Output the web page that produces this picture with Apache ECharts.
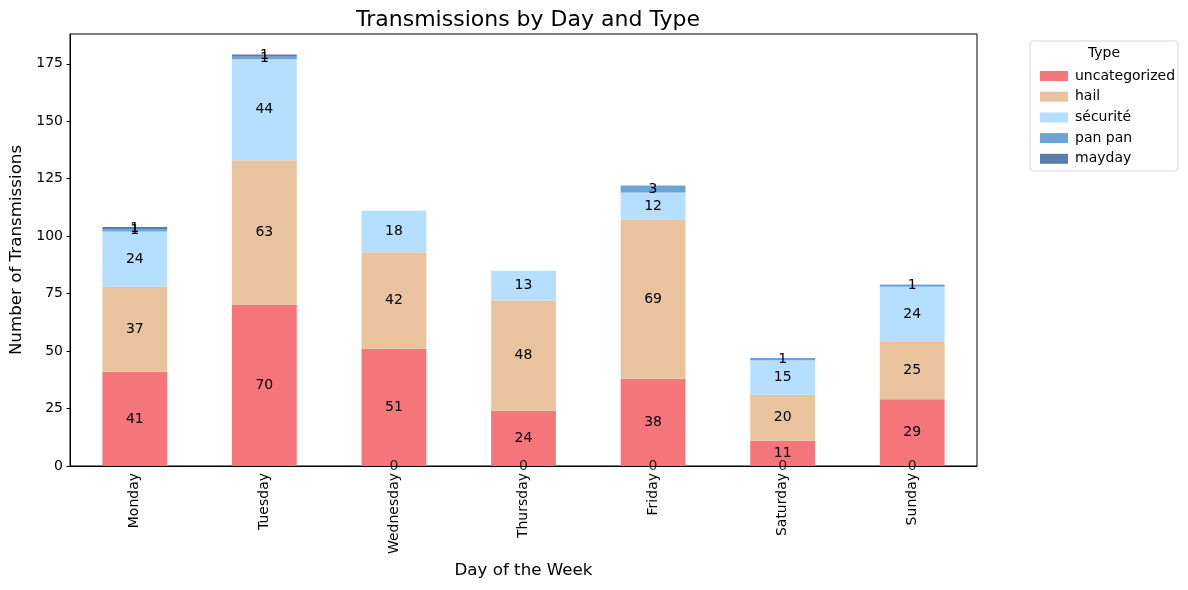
<!DOCTYPE html>
<html>
<head>
<meta charset="utf-8">
<script src="https://cdn.jsdelivr.net/npm/echarts@6/dist/echarts.min.js"></script>
<style>
html,body{margin:0;padding:0;background:#fff;}
#chart{width:1188px;height:590px;}
</style>
</head>
<body>
<div id="chart"></div>
<script>
const days = ['Monday','Tuesday','Wednesday','Thursday','Friday','Saturday','Sunday'];
const uncategorized = [41, 70, 51, 24, 38, 11, 29];
const hail = [37, 63, 42, 48, 69, 20, 25];
const securite = [24, 44, 18, 13, 12, 15, 24];
const panpan = [1, 1, 0, 0, 3, 1, 1];
const mayday = [1, 1, 0, 0, 0, 0, 0];
const yTicks = [0, 25, 50, 75, 100, 125, 150, 175];

const seriesDefs = [
  {name: 'uncategorized', data: uncategorized, color: '#F4767B'},
  {name: 'hail', data: hail, color: '#E8C39E'},
  {name: 'sécurité', data: securite, color: '#B6DEFE'},
  {name: 'pan pan', data: panpan, color: '#6AA3D6'},
  {name: 'mayday', data: mayday, color: '#5A7CA8'}
];

const totals = days.map((d, i) => seriesDefs.reduce((s, sd) => s + sd.data[i], 0));
const yMax = Math.max(...totals) * 1.05;
const zeroMarks = days.map((d, i) => seriesDefs.some(sd => sd.data[i] === 0) ? 0 : '-');

const FONT = 'DejaVu Sans';
const chart = echarts.init(document.getElementById('chart'));

const series = seriesDefs.map(sd => ({
  name: sd.name,
  type: 'bar',
  stack: 'total',
  barWidth: '50%',
  data: sd.data,
  itemStyle: {color: sd.color, borderWidth: 0},
  label: {
    show: true,
    position: 'inside',
    color: '#000',
    fontFamily: FONT,
    fontSize: 14,
    formatter: p => p.value === 0 ? '' : String(p.value)
  },
  emphasis: {disabled: true}
}));

series.push({
  name: 'zeros',
  type: 'scatter',
  data: zeroMarks,
  symbolSize: 0,
  silent: true,
  z: 10,
  label: {
    show: true,
    position: 'inside',
    color: '#000',
    fontFamily: FONT,
    fontSize: 14,
    formatter: '0'
  }
});

chart.setOption({
  animation: false,
  backgroundColor: '#fff',
  textStyle: {fontFamily: FONT},
  title: {
    text: 'Transmissions by Day and Type',
    left: 523,
    top: 4,
    textAlign: 'center',
    textStyle: {fontFamily: FONT, fontSize: 22, fontWeight: 'normal', color: '#000'}
  },
  grid: {
    left: 70, right: 211, top: 34, bottom: 124,
    containLabel: false,
    outerBoundsMode: 'none',
    show: true, borderColor: '#000', borderWidth: 1
  },
  legend: {
    data: seriesDefs.map(s => s.name),
    orient: 'vertical',
    left: 1035,
    top: 64,
    icon: 'rect',
    itemWidth: 28,
    itemHeight: 10,
    itemGap: 6.7,
    textStyle: {fontFamily: FONT, fontSize: 14, color: '#000', lineHeight: 14, padding: [0, 0, 0, 2]}
  },
  graphic: [
    {
      type: 'rect',
      shape: {x: 1030, y: 41, width: 148, height: 130, r: 3},
      style: {fill: '#fff', stroke: '#d5d5d5', lineWidth: 1},
      z: -1
    },
    {
      type: 'text',
      x: 1104, y: 53,
      style: {text: 'Type', fontFamily: FONT, fontSize: 14, fill: '#000', align: 'center', verticalAlign: 'middle'}
    }
  ],
  xAxis: {
    type: 'category',
    data: days,
    name: 'Day of the Week',
    nameLocation: 'middle',
    nameGap: 96,
    nameTextStyle: {fontFamily: FONT, fontSize: 16.7, color: '#000'},
    axisLine: {lineStyle: {color: '#000', width: 1}},
    axisTick: {alignWithLabel: true, length: 3.5, lineStyle: {color: '#000'}},
    axisLabel: {rotate: 90, margin: 7, fontFamily: FONT, fontSize: 14, color: '#000'}
  },
  yAxis: {
    type: 'value',
    min: 0,
    max: yMax,
    interval: 25,
    name: 'Number of Transmissions',
    nameLocation: 'middle',
    nameGap: 43,
    nameTextStyle: {fontFamily: FONT, fontSize: 16.7, color: '#000'},
    splitLine: {show: false},
    axisLine: {show: true, lineStyle: {color: '#000', width: 1}},
    axisTick: {show: true, length: 3.5, lineStyle: {color: '#000'}, customValues: yTicks},
    axisLabel: {margin: 7, fontFamily: FONT, fontSize: 14, color: '#000', customValues: yTicks}
  },
  series: series
});
</script>
</body>
</html>
